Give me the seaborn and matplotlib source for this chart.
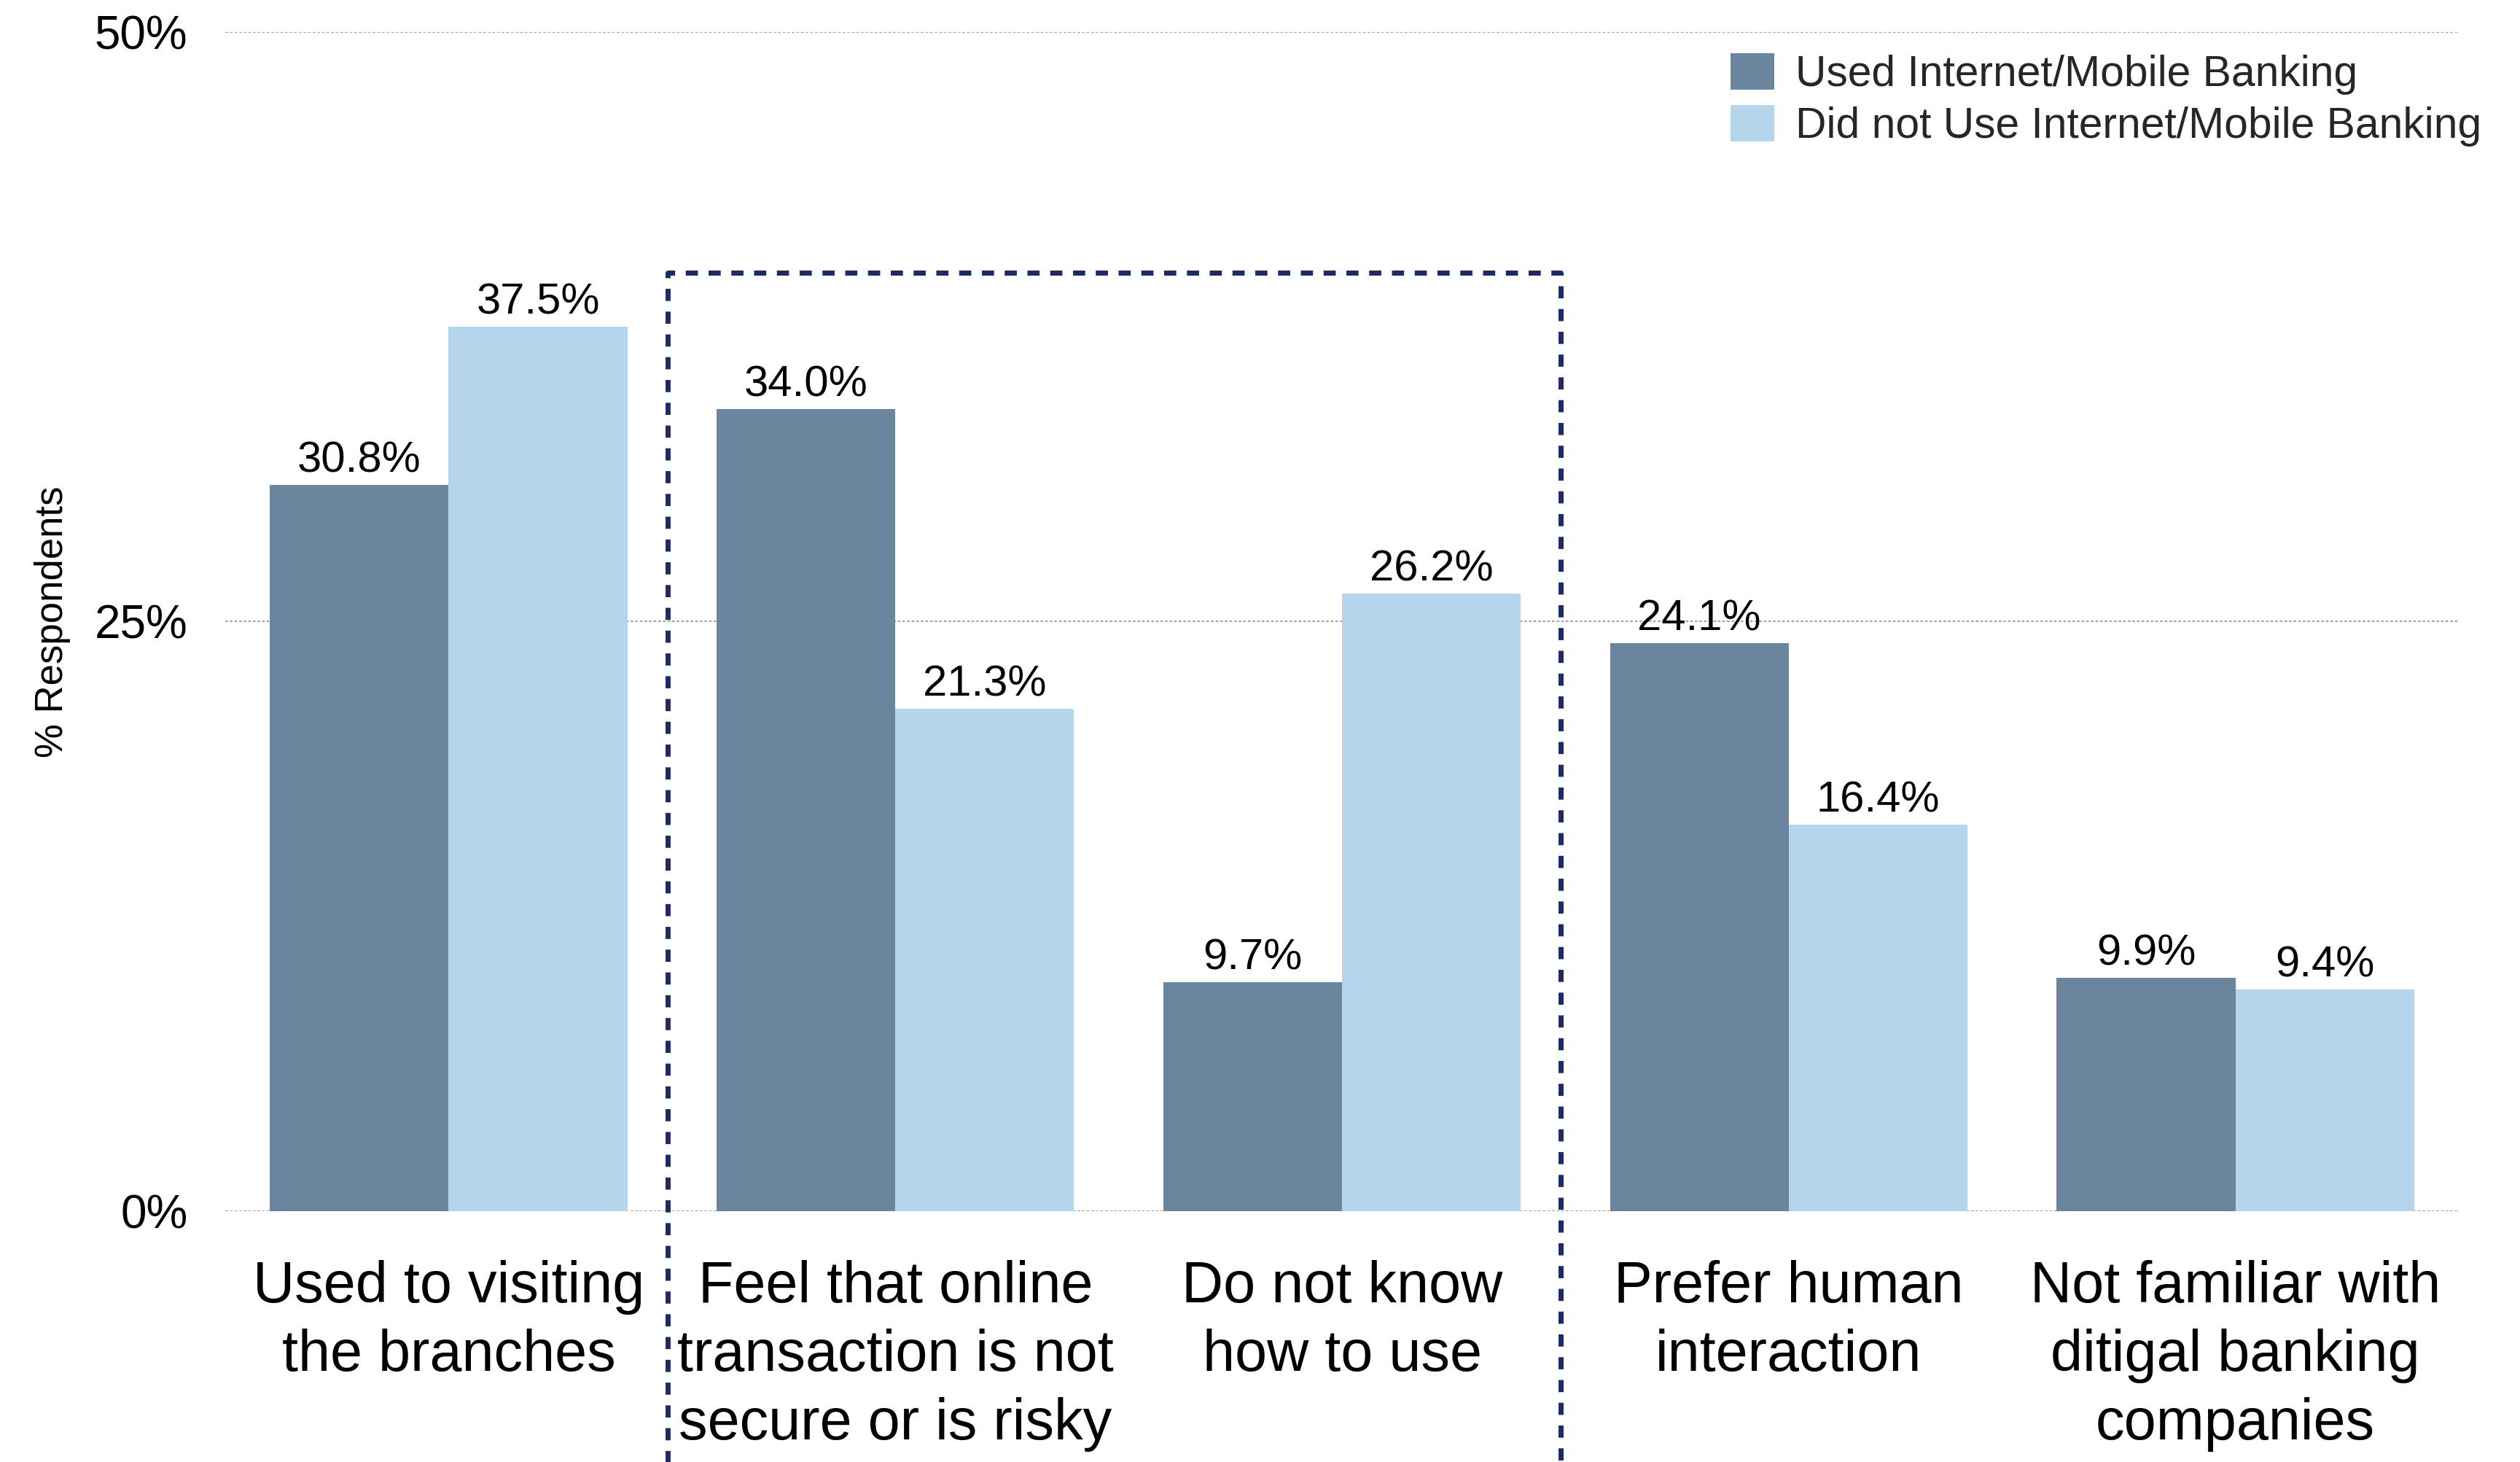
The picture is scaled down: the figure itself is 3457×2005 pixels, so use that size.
import matplotlib
matplotlib.use("Agg")
import matplotlib.pyplot as plt
import seaborn as sns
import pandas as pd

# ---- data ----
categories = [
    "Used to visiting\nthe branches",
    "Feel that online\ntransaction is not\nsecure or is risky",
    "Do not know\nhow to use",
    "Prefer human\ninteraction",
    "Not familiar with\nditigal banking\ncompanies",
]
used_values = [30.8, 34.0, 9.7, 24.1, 9.9]
not_used_values = [37.5, 21.3, 26.2, 16.4, 9.4]
series_names = ["Used Internet/Mobile Banking", "Did not Use Internet/Mobile Banking"]
y_ticks = [0, 25, 50]
y_tick_labels = ["0%", "25%", "50%"]
y_label = "% Respondents"

# ---- style ----
DARK = "#6a869e"
LIGHT = "#b5d5ed"
NAVY = "#1c2a66"

sns.set_theme(style="white")
plt.rcParams["font.family"] = ["Liberation Sans", "DejaVu Sans"]

df = pd.DataFrame({
    "category": categories * 2,
    "value": used_values + not_used_values,
    "series": [series_names[0]] * len(categories) + [series_names[1]] * len(categories),
})

fig = plt.figure(figsize=(34.57, 20.05), dpi=100)
ax = fig.add_axes([309 / 3457, 1 - 1661 / 2005, (3373 - 309) / 3457, (1661 - 44) / 2005])

sns.barplot(data=df, x="category", y="value", hue="series", order=categories,
            hue_order=series_names, palette=[DARK, LIGHT], saturation=1,
            width=0.8, ax=ax, errorbar=None, legend=True, linewidth=0)

for cont in ax.containers:
    ax.bar_label(cont, fmt="%.1f%%", padding=4, fontsize=43, color="black")

ax.set_ylim(0, 50)
ax.set_xlim(-0.5, 4.5)
ax.set_yticks(y_ticks)
ax.set_yticklabels(y_tick_labels)
ax.set_xlabel("")
ax.set_ylabel(y_label, fontsize=38, labelpad=24, color="black")
ax.tick_params(axis="y", length=0, pad=37, labelsize=46, labelcolor="black")
ax.tick_params(axis="x", length=0, pad=48, labelsize=57, labelcolor="black")
for lab in ax.get_xticklabels():
    lab.set_linespacing(1.33)
for s in ax.spines.values():
    s.set_visible(False)
ax.set_axisbelow(True)
ax.yaxis.grid(True, color="#999999", linestyle=(0, (2, 1.5)), linewidth=1.3)
ax.xaxis.grid(False)

# dashed highlight box around the two middle groups
ax.plot([0.49, 0.49, 2.49, 2.49], [-12, 39.8, 39.8, -12], color=NAVY, lw=5,
        linestyle=(0, (2.4, 2.1)), clip_on=False, dash_capstyle="butt", zorder=5)

handles, labels = ax.get_legend_handles_labels()
ax.legend(handles, labels, loc="upper left", bbox_to_anchor=(2374 / 3457, 1 - 73 / 2005),
          bbox_transform=fig.transFigure, frameon=False, fontsize=42.3,
          handlelength=1.02, handleheight=0.93, handletextpad=0.5,
          labelspacing=0.24, borderpad=0, borderaxespad=0)

fig.savefig("out.png", dpi=100)
